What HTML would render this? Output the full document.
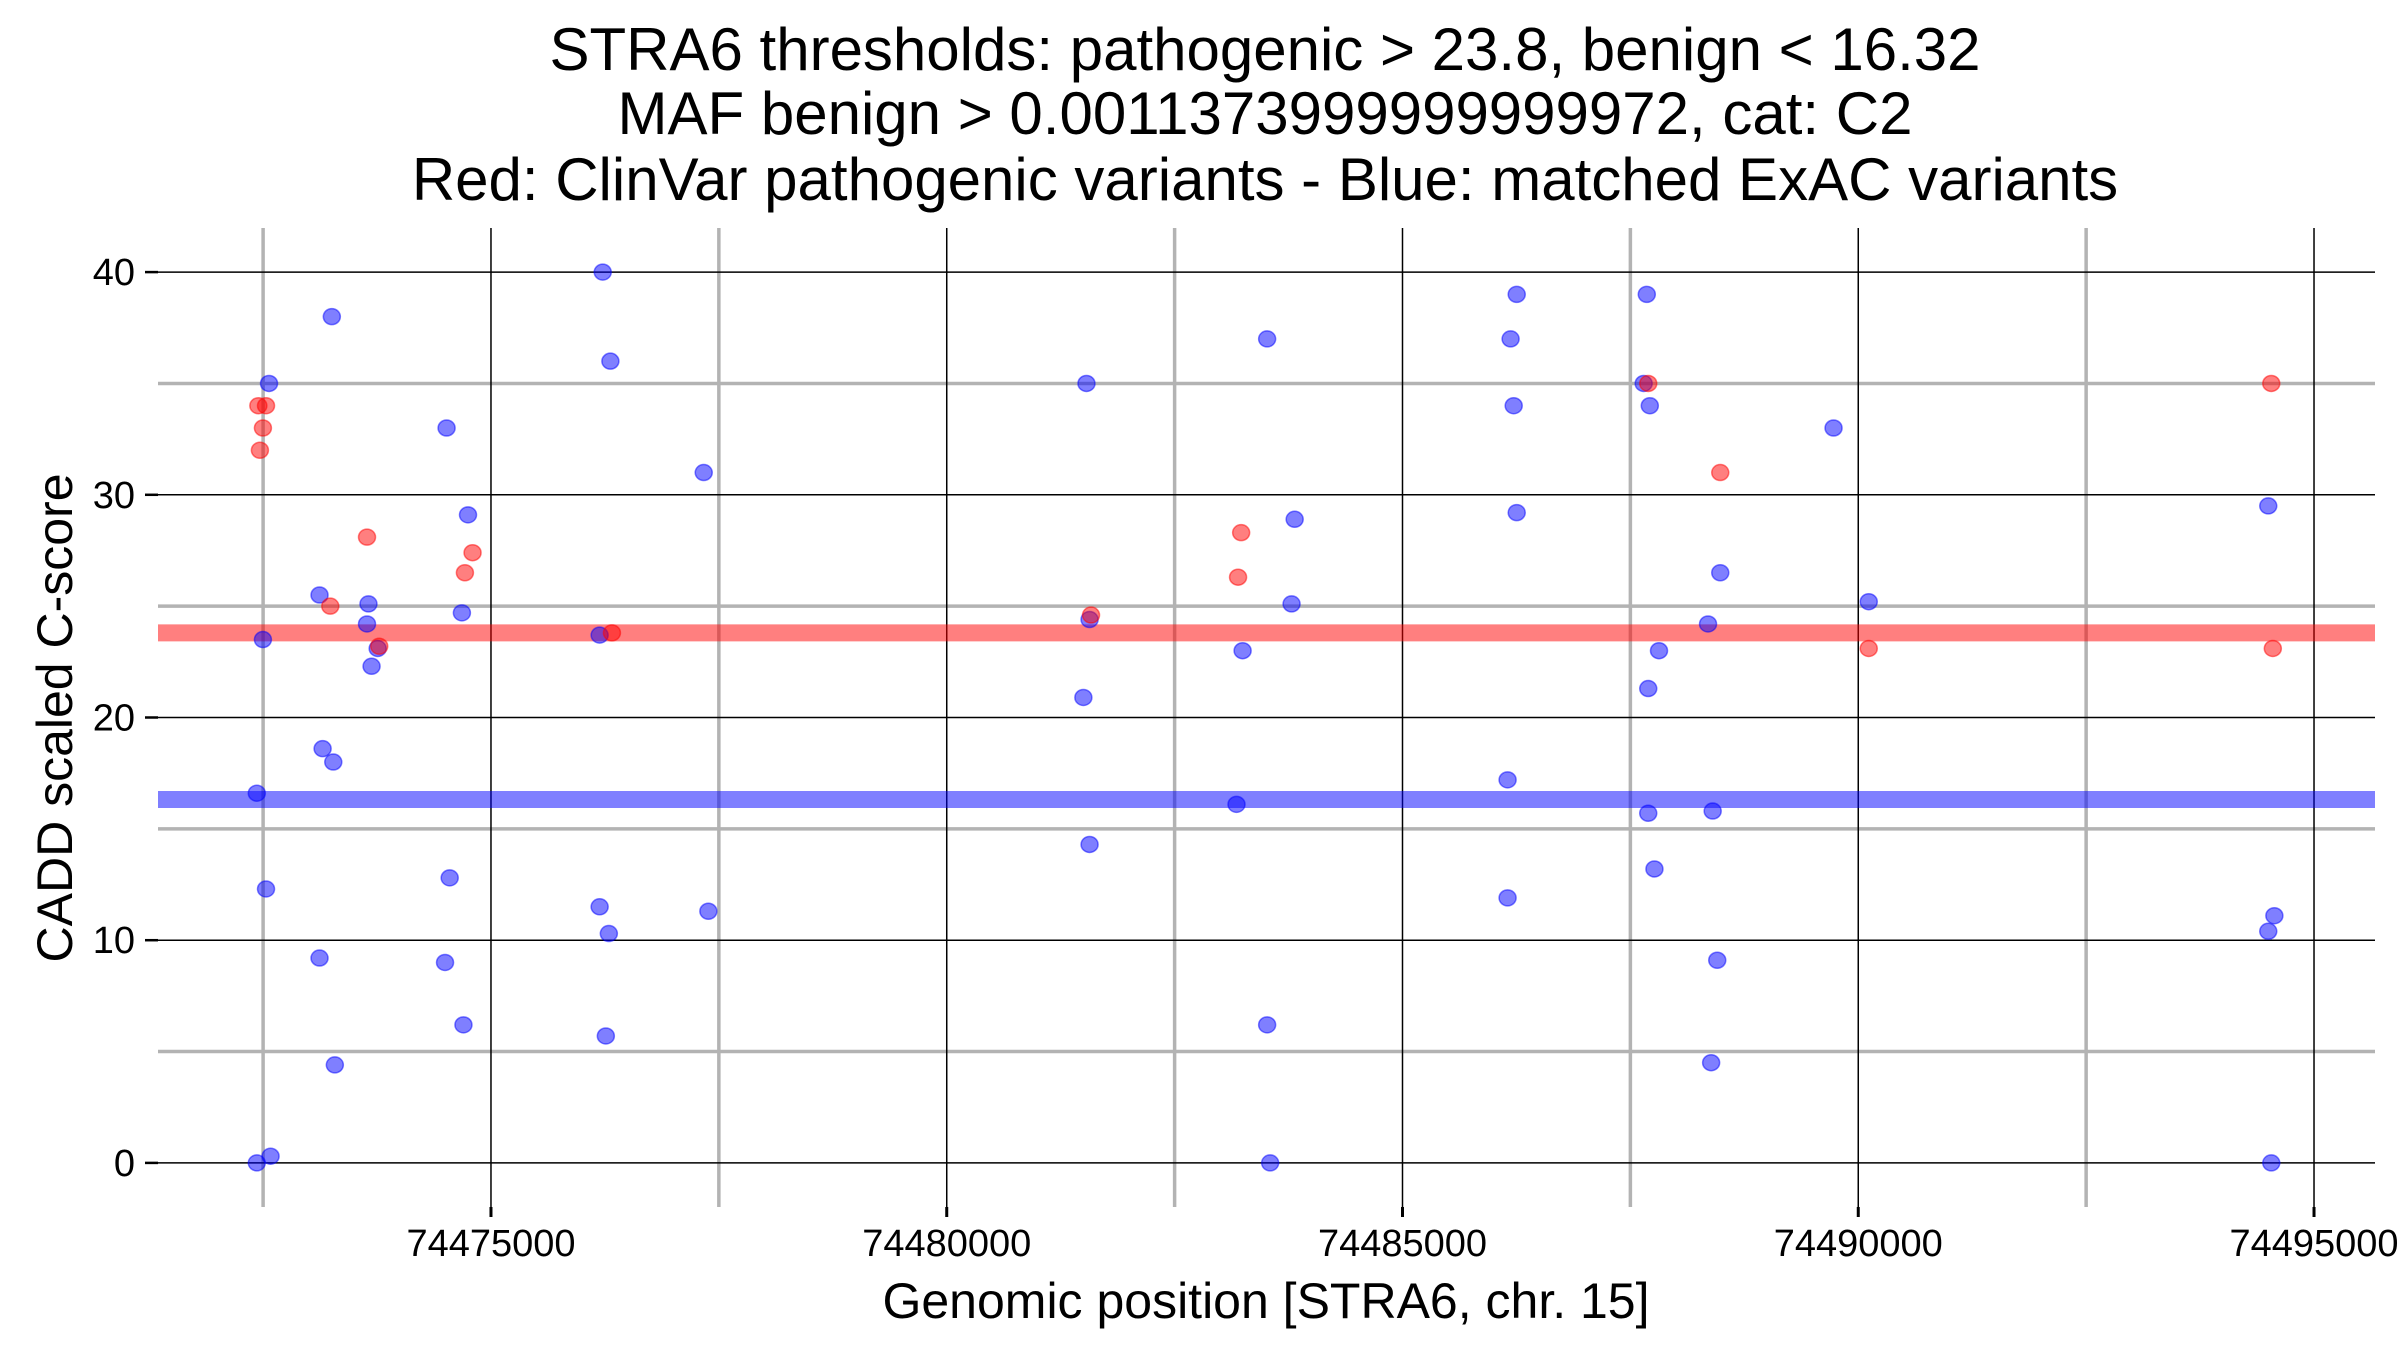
<!DOCTYPE html>
<html><head><meta charset="utf-8">
<style>
html,body{margin:0;padding:0;background:#fff;}
svg{display:block;font-family:"Liberation Sans",Arial,sans-serif;}
</style></head>
<body>
<svg id="chart" width="2400" height="1350" viewBox="0 0 2400 1350" xmlns="http://www.w3.org/2000/svg">
<g font-size="60" text-anchor="middle" fill="#000">
<text x="1265" y="70">STRA6 thresholds: pathogenic &gt; 23.8, benign &lt; 16.32</text>
<text x="1265" y="134">MAF benign &gt; 0.0011373999999999972, cat: C2</text>
<text x="1265" y="200">Red: ClinVar pathogenic variants - Blue: matched ExAC variants</text>
</g>
<g id="grid"></g>
<g id="axes"></g>
<g id="marks"></g>
<text x="1266" y="1318" font-size="50" text-anchor="middle">Genomic position [STRA6, chr. 15]</text>
<text x="0" y="0" transform="translate(72,718) rotate(-90)" font-size="50" text-anchor="middle">CADD scaled C-score</text>
</svg>
<script>
const xMajorTicks=[74475000,74480000,74485000,74490000,74495000];
const xMinorTicks=[74472500,74477500,74482500,74487500,74492500];
const yMajorTicks=[0,10,20,30,40];
const yMinorTicks=[5,15,25,35];
const pathogenicThreshold=23.8;
const benignThreshold=16.32;
const blueX=[74472431,74472582,74472431,74472532,74472498,74472565,74473254,74473119,74473656,74473640,74473690,74473757,74473153,74473270,74473119,74473287,74474513,74474748,74474681,74474547,74474496,74474698,74476226,74476310,74477334,74476192,74476293,74476260,74477385,74476192,74481533,74481499,74481567,74481567,74483515,74483817,74483783,74483246,74483179,74483515,74483548,74486253,74486186,74486220,74486253,74486153,74486153,74487680,74487646,74487713,74487814,74487696,74487696,74487764,74488486,74488352,74488403,74488453,74488386,74489729,74490115,74494498,74494565,74494498,74494531];
const blueY=[0,0.3,16.6,12.3,23.5,35,38,25.5,25.1,24.2,22.3,23.1,18.6,18,9.2,4.4,33,29.1,24.7,12.8,9,6.2,40,36,31,11.5,10.3,5.7,11.3,23.7,35,20.9,14.3,24.4,37,28.9,25.1,23,16.1,6.2,0,39,37,34,29.2,17.2,11.9,39,35,34,23,21.3,15.7,13.2,26.5,24.2,15.8,9.1,4.5,33,25.2,29.5,11.1,10.4,0];
const redX=[74472448,74472532,74472498,74472465,74473237,74473640,74473774,74474714,74474798,74476327,74481583,74483230,74483196,74487696,74488486,74490115,74494531,74494548];
const redY=[34,34,33,32,25,28.1,23.2,26.5,27.4,23.8,24.6,28.3,26.3,35,31,23.1,35,23.1];

const L=158,R=2375,T=228,B=1207;
const xMin=74471347,xMax=74495669,yMin=-1.98,yMax=41.98;
const sx=v=>L+(v-xMin)/(xMax-xMin)*(R-L);
const sy=v=>B-(v-yMin)/(yMax-yMin)*(B-T);
const NS="http://www.w3.org/2000/svg";
function mk(tag,parent,attrs){const e=document.createElementNS(NS,tag);for(const k in attrs)e.setAttribute(k,attrs[k]);parent.appendChild(e);return e;}
const grid=document.getElementById('grid'),axes=document.getElementById('axes'),marks=document.getElementById('marks');

yMinorTicks.forEach(v=>{const e=mk('line',grid,{x1:L,x2:R,y1:sy(v),y2:sy(v),stroke:'#b3b3b3','stroke-width':3.5});

});
xMinorTicks.forEach(v=>{const e=mk('line',grid,{x1:sx(v),x2:sx(v),y1:T,y2:B,stroke:'#b3b3b3','stroke-width':3.5});

});
yMajorTicks.forEach(v=>{const e=mk('line',grid,{x1:L,x2:R,y1:sy(v),y2:sy(v),stroke:'#000','stroke-width':1.5});


const t=mk('line',axes,{x1:145,x2:L,y1:sy(v),y2:sy(v),stroke:'#000','stroke-width':2.5});


const lb=mk('text',axes,{x:135,y:sy(v)+13,'font-size':38,'text-anchor':'end'});lb.textContent=v;

});
xMajorTicks.forEach(v=>{const e=mk('line',grid,{x1:sx(v),x2:sx(v),y1:T,y2:B,stroke:'#000','stroke-width':1.5});


const t=mk('line',axes,{x1:sx(v),x2:sx(v),y1:B,y2:B+10,stroke:'#000','stroke-width':3});


const lb=mk('text',axes,{x:sx(v),y:1256,'font-size':38,'text-anchor':'middle'});lb.textContent=v;

});

const pl=mk('line',marks,{x1:L,x2:R,y1:sy(pathogenicThreshold),y2:sy(pathogenicThreshold),stroke:'rgba(255,0,0,0.5)','stroke-width':17});


const bl=mk('line',marks,{x1:L,x2:R,y1:sy(benignThreshold),y2:sy(benignThreshold),stroke:'rgba(0,0,255,0.5)','stroke-width':17});



blueX.forEach((x,i)=>{const c=mk('ellipse',marks,{cx:sx(x),cy:sy(blueY[i]),rx:8.5,ry:8,fill:'rgba(0,0,255,0.5)',stroke:'rgba(0,0,255,0.5)','stroke-width':1.5});

});
redX.forEach((x,i)=>{const c=mk('ellipse',marks,{cx:sx(x),cy:sy(redY[i]),rx:8.5,ry:8,fill:'rgba(255,0,0,0.5)',stroke:'rgba(255,0,0,0.5)','stroke-width':1.5});

});
</script>
</body></html>
